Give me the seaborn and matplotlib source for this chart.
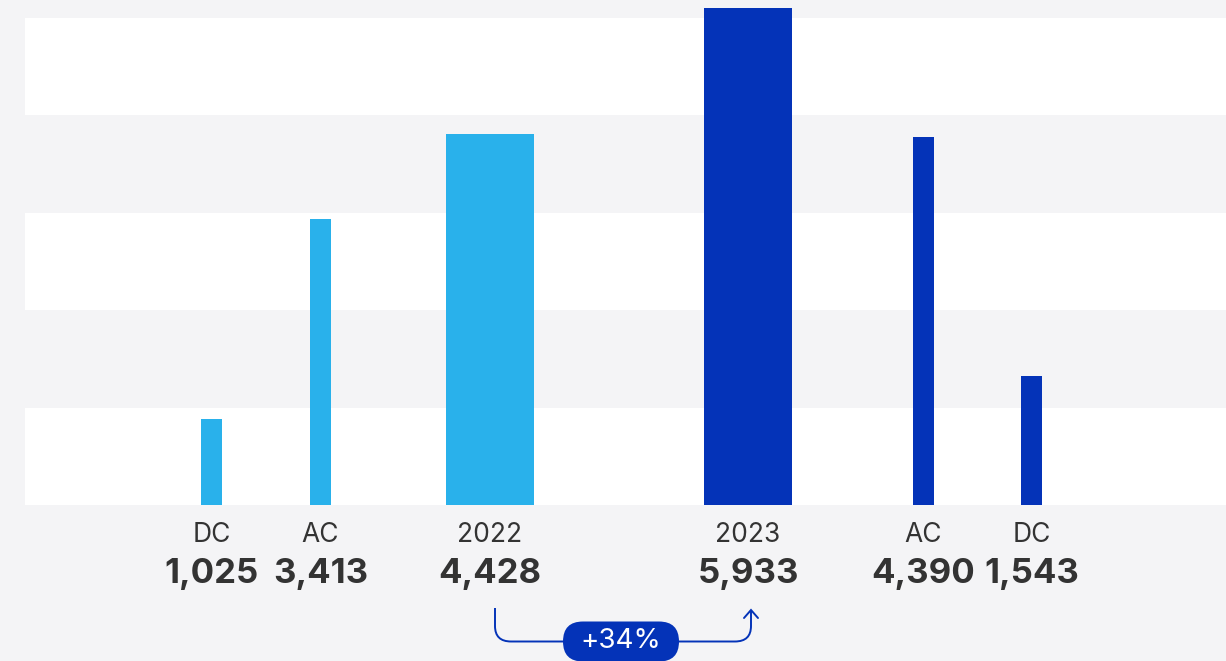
import matplotlib
matplotlib.use('Agg')
import matplotlib.pyplot as plt
import seaborn as sns
from matplotlib.path import Path
from matplotlib.patches import PathPatch, FancyBboxPatch
from matplotlib.transforms import blended_transform_factory

# Data
categories = ['DC', 'AC', '2022', '2023', 'AC', 'DC']
values = [1025, 3413, 4428, 5933, 4390, 1543]
change_label = '+34%'

# Layout / style
W, H = 1226, 661
BG = '#f4f4f6'
LIGHT = '#29b1eb'
DARK = '#0433b8'
TEXT = '#333333'
centers = [211.5, 320.5, 490, 748, 923.5, 1031.5]
widths = [21, 21, 88, 88, 21, 21]
colors = [LIGHT, LIGHT, LIGHT, DARK, DARK, DARK]
band = 1163

sns.set_theme(style='white')
plt.rcParams['font.family'] = ['Inter', 'DejaVu Sans']

fig = plt.figure(figsize=(W / 100, H / 100), dpi=100, facecolor=BG)
ax = fig.add_axes([25 / W, 156 / H, 1 - 25 / W, 505 / H])
ax.set_facecolor(BG)
ax.set_xlim(25, W)
ax.set_ylim(0, 6029)

# alternating white bands
for k in range(0, 5, 2):
    ax.axhspan(k * band, (k + 1) * band, color='white', lw=0, zorder=0)

ax.bar(centers, values, width=widths, color=colors, linewidth=0, zorder=2)

sns.despine(ax=ax, left=True, bottom=True)
ax.set_xticks([])
ax.set_yticks([])

# labels under bars
tr = blended_transform_factory(ax.transData, fig.transFigure)
for x, cat, v in zip(centers, categories, values):
    ax.text(x, 1 - 535 / H, cat, transform=tr, ha='center', va='center',
            fontsize=19, color=TEXT)
    ax.text(x, 1 - 574 / H, f'{v:,}', transform=tr, ha='center', va='center',
            fontsize=25, color=TEXT, fontweight='bold')

# annotation drawn in inches (pixels / 100, measured from the top)
inch = fig.dpi_scale_trans


def P(x, y):
    return (x / 100, (H - y) / 100)


# connector arrow 2022 -> 2023
verts = [P(495, 608), P(495, 626), P(495, 641.5), P(511, 641.5),
         P(735, 641.5), P(751, 641.5), P(751, 626), P(751, 611)]
codes = [Path.MOVETO, Path.LINETO, Path.CURVE3, Path.CURVE3,
         Path.LINETO, Path.CURVE3, Path.CURVE3, Path.LINETO]
fig.patches.append(PathPatch(Path(verts, codes), transform=inch,
                             fill=False, edgecolor=DARK, lw=1.4))
head = [P(744, 618), P(751, 610), P(758, 618)]
fig.lines.append(plt.Line2D([p[0] for p in head], [p[1] for p in head],
                            transform=inch, color=DARK, lw=1.4,
                            solid_joinstyle='miter'))

# pill
pw, ph = 116, 40
fig.patches.append(FancyBboxPatch(P(621 - pw / 2, 641.5 + ph / 2), pw / 100, ph / 100,
                                  boxstyle='round,pad=0,rounding_size=0.2',
                                  transform=inch, facecolor=DARK,
                                  edgecolor='none'))
fig.text(*P(621, 641.5), change_label, transform=inch, ha='center',
         va='center', fontsize=20, color='white')

fig.savefig('out.png', dpi=100, facecolor=BG)
